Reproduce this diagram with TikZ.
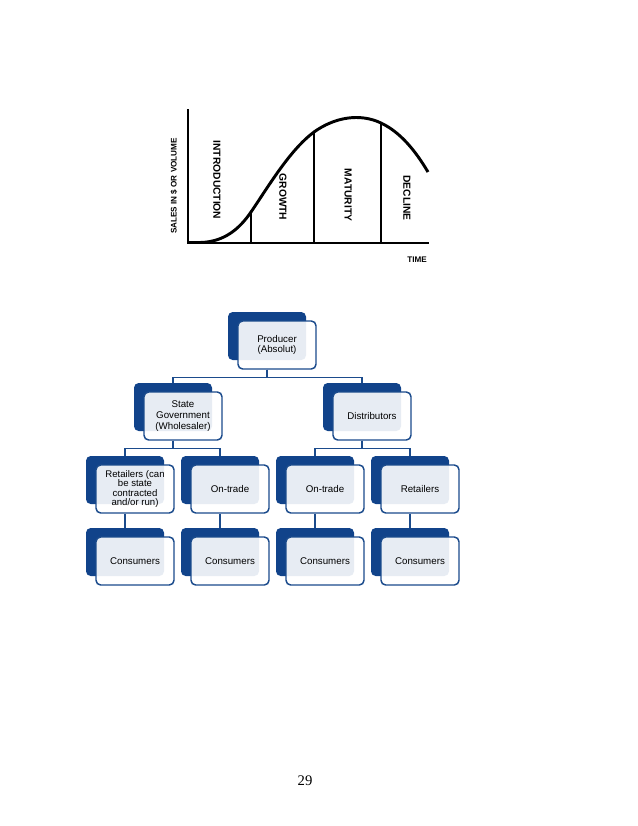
\documentclass[tikz,border=0pt]{standalone}
\usepackage{fontspec}
\setmainfont{Liberation Sans}
\newfontfamily\pagenumfont{Liberation Serif}
\definecolor{boxblue}{HTML}{11438A}
\definecolor{lineblue}{HTML}{1B4B8C}
\tikzset{
  backbox/.style={rectangle, rounded corners=3.5pt, fill=boxblue,
    minimum width=58.5pt, minimum height=36pt, inner sep=0pt},
  frontbox/.style={rectangle, rounded corners=3.5pt, draw=lineblue,
    line width=1.1pt, fill=white, fill opacity=0.9, text opacity=1,
    minimum width=58.5pt, minimum height=36pt, align=center, inner sep=1pt,
    font=\fontsize{7.3}{8.2}\selectfont},
  link/.style={draw=lineblue, line width=1.1pt},
  stage/.style={font=\bfseries\fontsize{7.7}{8}\selectfont, rotate=-90, inner sep=0pt},
  axislabel/.style={font=\bfseries\fontsize{6.1}{7}\selectfont, inner sep=0pt},
}
\begin{document}
\begin{tikzpicture}[x=0.75pt,y=-0.75pt]
\useasboundingbox[fill=white] (0,0) rectangle (638,826);
% life cycle chart
\draw[line width=1.5pt] (188,109) -- (188,243) -- (429,243);
\draw[line width=1.5pt] (251,243) -- (251,212);
\draw[line width=1.5pt] (314,243) -- (314,132);
\draw[line width=1.5pt] (381,243) -- (381,123);
\draw[line width=2.2pt] (188,242.5) -- (200,242.5)
  .. controls (225,242) and (240,228) .. (251,212)
  .. controls (270,184) and (290,150) .. (314,132)
  .. controls (335,117) and (360,113) .. (381,123)
  .. controls (400,132) and (415,150) .. (428,172);
\node[stage] (intro) at (217,180) {INTRODUCTION};
\node[stage] (growth) at (283,197) {GROWTH};
\node[stage] (mature) at (348,195) {MATURITY};
\node[stage] (decline) at (407,198) {DECLINE};
\node[axislabel, rotate=90] (sales) at (174,186) {SALES IN \$ OR VOLUME};
\node[axislabel] (time) at (417,260) {TIME};
% distribution chart
\node[backbox] (prodB) at (267,336) {};
\node[frontbox] (prod) at ([shift={(10,9)}]prodB.center) {Producer\\(Absolut)};
\node[backbox] (stateB) at (173,407) {};
\node[frontbox] (state) at ([shift={(10,9)}]stateB.center) {State\\Government\\(Wholesaler)};
\node[backbox] (distB) at (362,407) {};
\node[frontbox] (dist) at ([shift={(10,9)}]distB.center) {Distributors};
\node[backbox] (retAB) at (125,480) {};
\node[frontbox, font=\fontsize{7.2}{6.9}\selectfont] (retA) at ([shift={(10,9)}]retAB.center) {Retailers (can\\be state\\contracted\\and/or run)};
\node[backbox] (onAB) at (220,480) {};
\node[frontbox] (onA) at ([shift={(10,9)}]onAB.center) {On-trade};
\node[backbox] (onBB) at (315,480) {};
\node[frontbox] (onB) at ([shift={(10,9)}]onBB.center) {On-trade};
\node[backbox] (retBB) at (410,480) {};
\node[frontbox] (retB) at ([shift={(10,9)}]retBB.center) {Retailers};
\node[backbox] (conAB) at (125,552) {};
\node[frontbox] (conA) at ([shift={(10,9)}]conAB.center) {Consumers};
\node[backbox] (conBB) at (220,552) {};
\node[frontbox] (conB) at ([shift={(10,9)}]conBB.center) {Consumers};
\node[backbox] (conCB) at (315,552) {};
\node[frontbox] (conC) at ([shift={(10,9)}]conCB.center) {Consumers};
\node[backbox] (conDB) at (410,552) {};
\node[frontbox] (conD) at ([shift={(10,9)}]conDB.center) {Consumers};
\draw[link] (prodB |- prod.south) -- ++(0,8) -| (stateB.north);
\draw[link] (prodB |- prod.south) -- ++(0,8) -| (distB.north);
\draw[link] (stateB |- state.south) -- ++(0,8) -| (retAB.north);
\draw[link] (stateB |- state.south) -- ++(0,8) -| (onAB.north);
\draw[link] (distB |- dist.south) -- ++(0,8) -| (onBB.north);
\draw[link] (distB |- dist.south) -- ++(0,8) -| (retBB.north);
\draw[link] (retAB |- retA.south) -- (conAB.north);
\draw[link] (onAB |- onA.south) -- (conBB.north);
\draw[link] (onBB |- onB.south) -- (conCB.north);
\draw[link] (retBB |- retB.south) -- (conDB.north);
\node[font=\pagenumfont\fontsize{11}{13}\selectfont] (page) at (305,781) {29};
\end{tikzpicture}
\end{document}
